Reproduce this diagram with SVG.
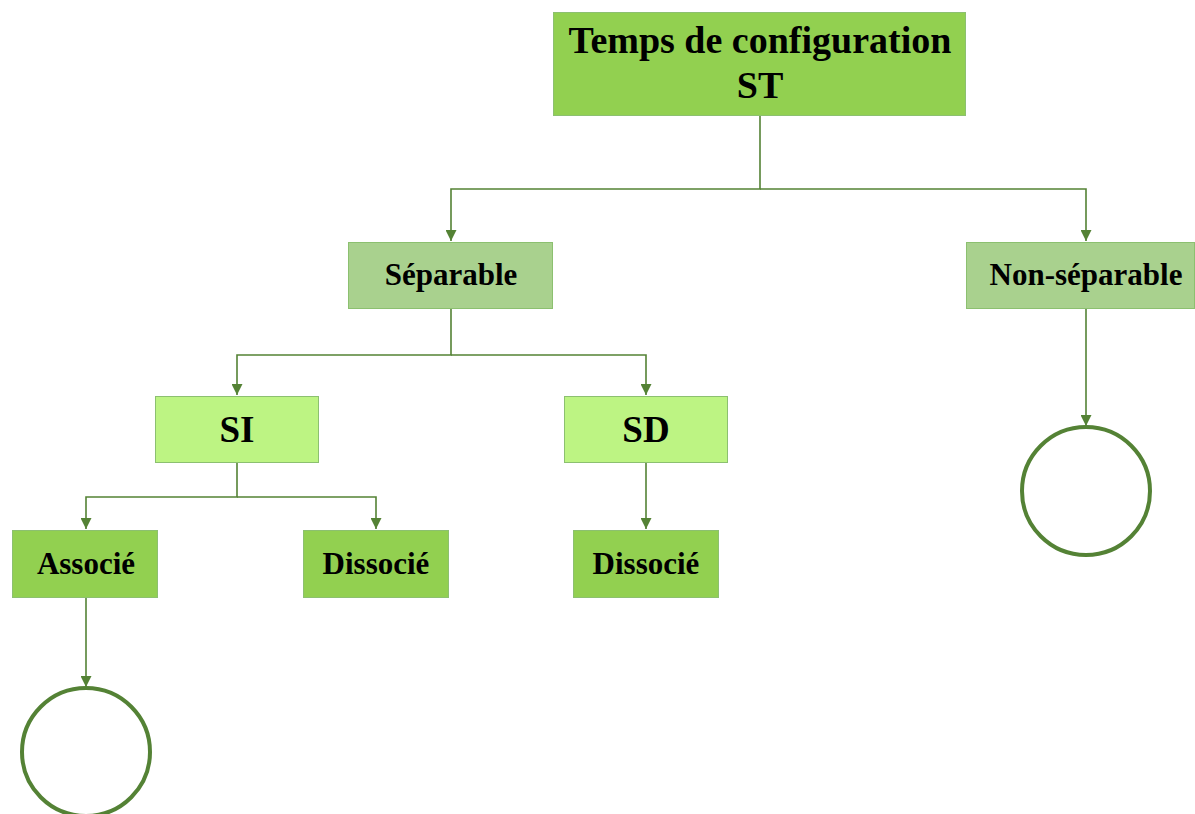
<svg xmlns="http://www.w3.org/2000/svg" width="1195" height="814" viewBox="0 0 1195 814">
  <defs>
    <marker id="arr" viewBox="0 0 10 10" refX="10" refY="5" markerWidth="11" markerHeight="11" markerUnits="userSpaceOnUse" orient="auto">
      <path d="M0,0 L10,5 L0,10 Z" fill="#548235"/>
    </marker>
    <style>
      .box { stroke: #8cc070; stroke-width: 1; }
      .dark { fill: #92d050; }
      .mid { fill: #a9d18e; }
      .light { fill: #bdf483; }
      .lbl { font-family: "Liberation Serif", "Times New Roman", serif; font-weight: bold; fill: #000; text-anchor: middle; }
      .conn { fill: none; stroke: #548235; stroke-width: 1.6; }
      .end { fill: #fff; stroke: #548235; stroke-width: 4; }
    </style>
  </defs>
  <rect width="1195" height="814" fill="#fff"/>

  <g id="connectors">
    <path class="conn" d="M760,115 V189 H451 V241" marker-end="url(#arr)"/>
    <path class="conn" d="M760,189 H1086 V241" marker-end="url(#arr)"/>
    <path class="conn" d="M451,308 V355 H237 V395" marker-end="url(#arr)"/>
    <path class="conn" d="M451,355 H646 V395" marker-end="url(#arr)"/>
    <path class="conn" d="M237,462 V497 H86 V529" marker-end="url(#arr)"/>
    <path class="conn" d="M237,497 H376 V529" marker-end="url(#arr)"/>
    <path class="conn" d="M646,462 V529" marker-end="url(#arr)"/>
    <path class="conn" d="M86,597 V687" marker-end="url(#arr)"/>
    <path class="conn" d="M1086,308 V426" marker-end="url(#arr)"/>
  </g>

  <g id="root">
    <rect class="box dark" x="553.5" y="12.5" width="412" height="103"/>
    <text class="lbl" x="760" y="53" font-size="38">Temps de configuration</text>
    <text class="lbl" x="760" y="98" font-size="38">ST</text>
  </g>

  <g id="separable">
    <rect class="box mid" x="348.5" y="242.5" width="204" height="66"/>
    <text class="lbl" x="451" y="285" font-size="31">Séparable</text>
  </g>

  <g id="non-separable">
    <rect class="box mid" x="966.5" y="242.5" width="228" height="66"/>
    <text class="lbl" x="1086" y="285" font-size="31">Non-séparable</text>
  </g>

  <g id="si">
    <rect class="box light" x="155.5" y="396.5" width="163" height="66"/>
    <text class="lbl" x="237" y="442" font-size="37">SI</text>
  </g>

  <g id="sd">
    <rect class="box light" x="564.5" y="396.5" width="163" height="66"/>
    <text class="lbl" x="646" y="442" font-size="37">SD</text>
  </g>

  <g id="si-associe">
    <rect class="box dark" x="12.5" y="530.5" width="145" height="67"/>
    <text class="lbl" x="86" y="574" font-size="31">Associé</text>
  </g>

  <g id="si-dissocie">
    <rect class="box dark" x="303.5" y="530.5" width="145" height="67"/>
    <text class="lbl" x="376" y="574" font-size="31">Dissocié</text>
  </g>

  <g id="sd-dissocie">
    <rect class="box dark" x="573.5" y="530.5" width="145" height="67"/>
    <text class="lbl" x="646" y="574" font-size="31">Dissocié</text>
  </g>

  <g id="end-associe">
    <circle class="end" cx="86" cy="752" r="64"/>
  </g>

  <g id="end-non-separable">
    <circle class="end" cx="1086" cy="491" r="64"/>
  </g>
</svg>
